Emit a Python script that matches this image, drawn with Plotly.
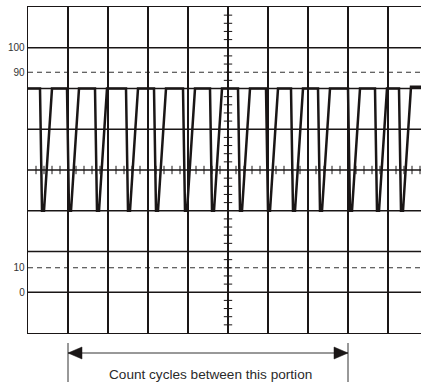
import plotly.graph_objects as go

# ---- data -------------------------------------------------------------
# time axis in graticule divisions, amplitude in percent of full scale
wave_x = [0.0,
          0.30, 0.35, 0.40, 0.60,
          0.975, 1.025, 1.075, 1.275,
          1.675, 1.725, 1.775, 1.975,
          2.45, 2.50, 2.55, 2.75,
          3.15, 3.20, 3.25, 3.45,
          3.875, 3.925, 3.975, 4.175,
          4.55, 4.60, 4.65, 4.85,
          5.25, 5.30, 5.35, 5.55,
          5.95, 6.00, 6.05, 6.25,
          6.575, 6.625, 6.675, 6.875,
          7.25, 7.30, 7.35, 7.55,
          8.00, 8.05, 8.10, 8.30,
          8.675, 8.725, 8.775, 8.975,
          9.275, 9.325, 9.375, 9.575,
          9.83]
wave_y = [83.3,
          83.3, 33.3, 33.3, 83.3,
          83.3, 33.3, 33.3, 83.3,
          83.3, 33.3, 33.3, 83.3,
          83.3, 33.3, 33.3, 83.3,
          83.3, 33.3, 33.3, 83.3,
          83.3, 33.3, 33.3, 83.3,
          83.3, 33.3, 33.3, 83.3,
          83.3, 33.3, 33.3, 83.3,
          83.3, 33.3, 33.3, 83.3,
          83.3, 33.3, 33.3, 83.3,
          83.3, 33.3, 33.3, 83.3,
          83.3, 33.3, 33.3, 83.3,
          83.3, 33.3, 33.3, 83.3,
          83.3, 33.3, 33.3, 84.0,
          84.0]

y_tick_vals = [0, 10, 90, 100]
y_tick_text = ["0", "10", "90", "100"]
dashed_levels = [10, 90]
arrow_start = 1
arrow_end = 8
caption = "Count cycles between this portion"

# ---- graticule geometry ------------------------------------------------
DIV = 100 / 6                       # percent per vertical division
y_lo, y_hi = -DIV, 7 * DIV
h_grid = [k * DIV for k in range(0, 7)]
x_minor = [i * 0.2 for i in range(0, 50) if i % 5 != 0]
y_minor = [y_lo + j * DIV * 0.2 for j in range(1, 40) if j % 5 != 0]

INK = "#1a1616"
FONT = "Liberation Sans, Arial, sans-serif"

fig = go.Figure()

# minor ticks on the centre cross
fig.add_trace(go.Scatter(x=x_minor, y=[50] * len(x_minor), mode="markers",
                         marker=dict(symbol="line-ns", size=6,
                                     line=dict(width=1, color=INK)),
                         hoverinfo="skip", showlegend=False))
fig.add_trace(go.Scatter(x=[5] * len(y_minor), y=y_minor, mode="markers",
                         marker=dict(symbol="line-ew", size=6,
                                     line=dict(width=1, color=INK)),
                         hoverinfo="skip", showlegend=False))

# waveform
fig.add_trace(go.Scatter(x=wave_x, y=wave_y, mode="lines",
                         line=dict(color=INK, width=2.5),
                         hoverinfo="skip", showlegend=False))

shapes = []
for v in h_grid:
    shapes.append(dict(type="line", xref="paper", x0=0, x1=1, yref="y",
                       y0=v, y1=v, line=dict(color=INK, width=1.3),
                       layer="below"))
for v in dashed_levels:
    shapes.append(dict(type="line", xref="paper", x0=0, x1=1, yref="y",
                       y0=v, y1=v, line=dict(color="#333333", width=1.1,
                                             dash="5px,4px"),
                       layer="below"))

# dimension arrow under the chart
ARROW = "#333333"
shapes.append(dict(type="line", xref="x", x0=arrow_start, x1=arrow_end,
                   yref="paper", ysizemode="pixel", yanchor=0, y0=-20, y1=-20,
                   line=dict(color=ARROW, width=1)))
for xv in (arrow_start, arrow_end):
    shapes.append(dict(type="line", xref="x", x0=xv, x1=xv,
                       yref="paper", ysizemode="pixel", yanchor=0,
                       y0=-10, y1=-50, line=dict(color=ARROW, width=1)))
shapes.append(dict(type="path", xref="x", xsizemode="pixel", xanchor=arrow_start,
                   yref="paper", ysizemode="pixel", yanchor=0,
                   path="M0,-20 L14,-14 L14,-26 Z",
                   fillcolor=INK, line=dict(color=INK, width=0.5)))
shapes.append(dict(type="path", xref="x", xsizemode="pixel", xanchor=arrow_end,
                   yref="paper", ysizemode="pixel", yanchor=0,
                   path="M0,-20 L-14,-14 L-14,-26 Z",
                   fillcolor=INK, line=dict(color=INK, width=0.5)))

fig.update_layout(
    width=421, height=382,
    margin=dict(l=28, r=0, t=7, b=49, pad=0),
    plot_bgcolor="white", paper_bgcolor="white",
    shapes=shapes,
    annotations=[dict(text=caption, xref="x", x=(arrow_start + arrow_end) / 2 + 0.05,
                      yref="paper", y=0, yshift=-41, yanchor="middle",
                      showarrow=False,
                      font=dict(family=FONT, size=13.6, color="#2a2a2a"))],
    xaxis=dict(range=[0, 9.825], showgrid=True, tick0=0, dtick=1,
               gridcolor=INK, gridwidth=1.3, zeroline=False,
               showticklabels=False, ticks="",
               showline=True, linecolor=INK, linewidth=1.3, mirror=True),
    yaxis=dict(range=[y_lo, y_hi], showgrid=False, zeroline=False,
               tickmode="array", tickvals=y_tick_vals, ticktext=y_tick_text,
               ticks="", ticklabelstandoff=0,
               tickfont=dict(family=FONT, size=10, color="#333333"),
               showline=True, linecolor=INK, linewidth=1.3, mirror=False),
)

fig.write_html(
    "out.html",
    config={"displayModeBar": False, "staticPlot": True},
    post_script="document.body.style.margin='0';"
                "document.body.style.overflow='hidden';",
)
